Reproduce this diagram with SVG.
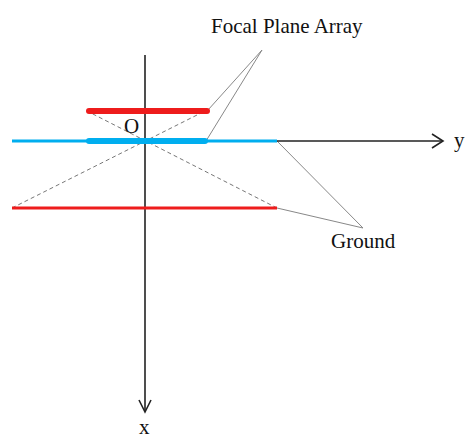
<svg xmlns="http://www.w3.org/2000/svg" width="465" height="439" viewBox="0 0 465 439">
<style>
.t{font-family:"Liberation Serif","Times New Roman",serif;font-size:21px;fill:#111}
.ax{stroke:#222;stroke-width:1.6;fill:none}
.dash{stroke:#777;stroke-width:1;stroke-dasharray:4,3;fill:none}
.lead{stroke:#888;stroke-width:1;fill:none}
</style>
<rect width="465" height="439" fill="#fff"/>
<g id="connectors">
<line class="dash" x1="12" y1="208" x2="205" y2="111"/>
<line class="dash" x1="277" y1="208" x2="87" y2="111"/>
<polyline class="lead" points="208,110 262,50 206,141"/>
<polyline class="lead" points="277,141 363,228 277,208"/>
</g>
<g id="axis-x">
<line class="ax" x1="145" y1="55" x2="145" y2="411"/>
<polyline class="ax" points="139,400 145,412 151,400"/>
<text class="t" x="139" y="434">x</text>
</g>
<g id="axis-y">
<line class="ax" x1="277" y1="141" x2="442" y2="141"/>
<polyline class="ax" points="432,134 443,141 432,148"/>
<text class="t" x="454" y="147">y</text>
</g>
<g id="ground-line">
<line x1="12" y1="141" x2="277" y2="141" stroke="#00aeef" stroke-width="3"/>
<line x1="12" y1="208" x2="277" y2="208" stroke="#ee1c1c" stroke-width="3"/>
</g>
<g id="focal-plane">
<line x1="89" y1="111" x2="207" y2="111" stroke="#ee1c1c" stroke-width="6" stroke-linecap="round"/>
<line x1="89" y1="141" x2="205" y2="141" stroke="#00aeef" stroke-width="6" stroke-linecap="round"/>
</g>
<g id="origin"><text class="t" x="124" y="133">O</text></g>
<g id="label-fpa"><text class="t" x="211" y="33">Focal Plane Array</text></g>
<g id="label-ground"><text class="t" x="331" y="248">Ground</text></g>
</svg>
